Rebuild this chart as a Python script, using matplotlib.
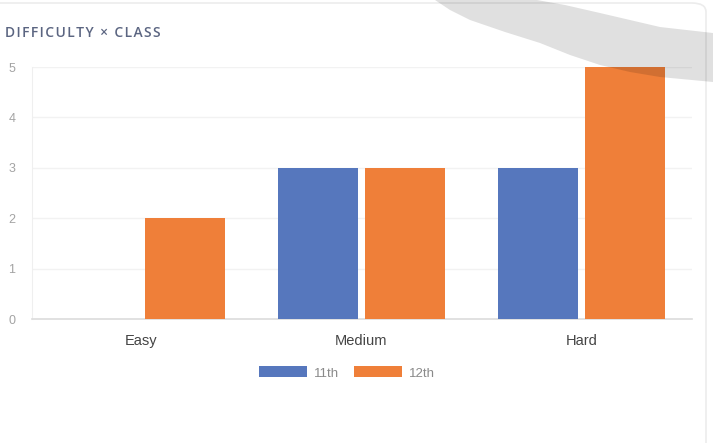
import numpy as np
import matplotlib
matplotlib.use('Agg')
import matplotlib.pyplot as plt
from matplotlib.patches import FancyBboxPatch, Polygon

# ── data ─────────────────────────────────────────────────────────────────────

categories = ['Easy', 'Medium', 'Hard']
series_names = ['11th', '12th']
class_11 = [0, 3, 3]
class_12 = [2, 3, 5]
y_ticks = [0, 1, 2, 3, 4, 5]
title = 'DIFFICULTY \u00d7 CLASS'

BLUE = '#5677bd'
ORANGE = '#ef7f39'

W, H = 713, 443

def px(x, y):
    """pixel position (from top-left) -> figure fraction"""
    return x / W, 1 - y / H

plt.rcParams['font.family'] = ['Liberation Sans', 'DejaVu Sans']

fig = plt.figure(figsize=(W / 100, H / 100), dpi=100)
fig.patch.set_facecolor('white')

# card outline
card = FancyBboxPatch(px(-20, 460), (20 + 706) / W, (460 - 3) / H,
                      boxstyle='round,pad=0,rounding_size=0.02',
                      transform=fig.transFigure, facecolor='white',
                      edgecolor='#ececec', linewidth=1.2, zorder=-5)
fig.patches.append(card)

ax = fig.add_axes([31.5 / W, (H - 319) / H, 660 / W, 252 / H])
ax.set_facecolor('none')

x = np.arange(len(categories))
bw = 0.36
off = 0.198
ax.bar(x - off, class_11, width=bw, color=BLUE, label=series_names[0], zorder=3)
ax.bar(x + off, class_12, width=bw, color=ORANGE, label=series_names[1], zorder=3)

ax.set_xlim(-0.5, len(categories) - 0.5)
ax.set_ylim(0, 5)
ax.set_yticks(y_ticks)
ax.set_xticks(x)
ax.set_xticklabels(categories)
ax.grid(axis='y', color='#f2f2f2', linewidth=1, zorder=0)
for side in ['top', 'right']:
    ax.spines[side].set_visible(False)
ax.spines['left'].set_color('#efefef')
ax.spines['bottom'].set_color('#dcdcdc')
ax.spines['bottom'].set_linewidth(1.2)
ax.tick_params(axis='y', length=0, pad=11.5, labelsize=9, labelcolor='#a3a3a3')
ax.tick_params(axis='x', length=0, pad=10.5, labelsize=10.5, labelcolor='#444444')

fig.legend(loc='center', bbox_to_anchor=px(347, 373), ncol=2, frameon=False,
           fontsize=9.5, labelcolor='#8a8a8a', handlelength=3.6, handleheight=0.9,
           handletextpad=0.5, columnspacing=1.2)

# letter-spaced title
spaced = '\u200a'.join(title)
fig.text(*px(5, 33), spaced, fontsize=10, fontweight='semibold',
         family=['Open Sans', 'DejaVu Sans'], color='#5b6581', va='center', ha='left')

# gray arc artefact across the top right
upper = [(435, 0), (537, 0), (565, 5), (600, 13), (630, 20), (660, 27), (713, 33)]
lower = [(713, 82), (660, 77), (630, 72), (600, 65), (570, 55), (540, 43),
         (505, 32), (470, 20), (450, 10)]
arc = Polygon([px(*p) for p in upper + lower], closed=True,
              transform=fig.transFigure, facecolor='black', alpha=0.12,
              edgecolor='none', zorder=10)
fig.patches.append(arc)

fig.savefig('out.png', dpi=100)
